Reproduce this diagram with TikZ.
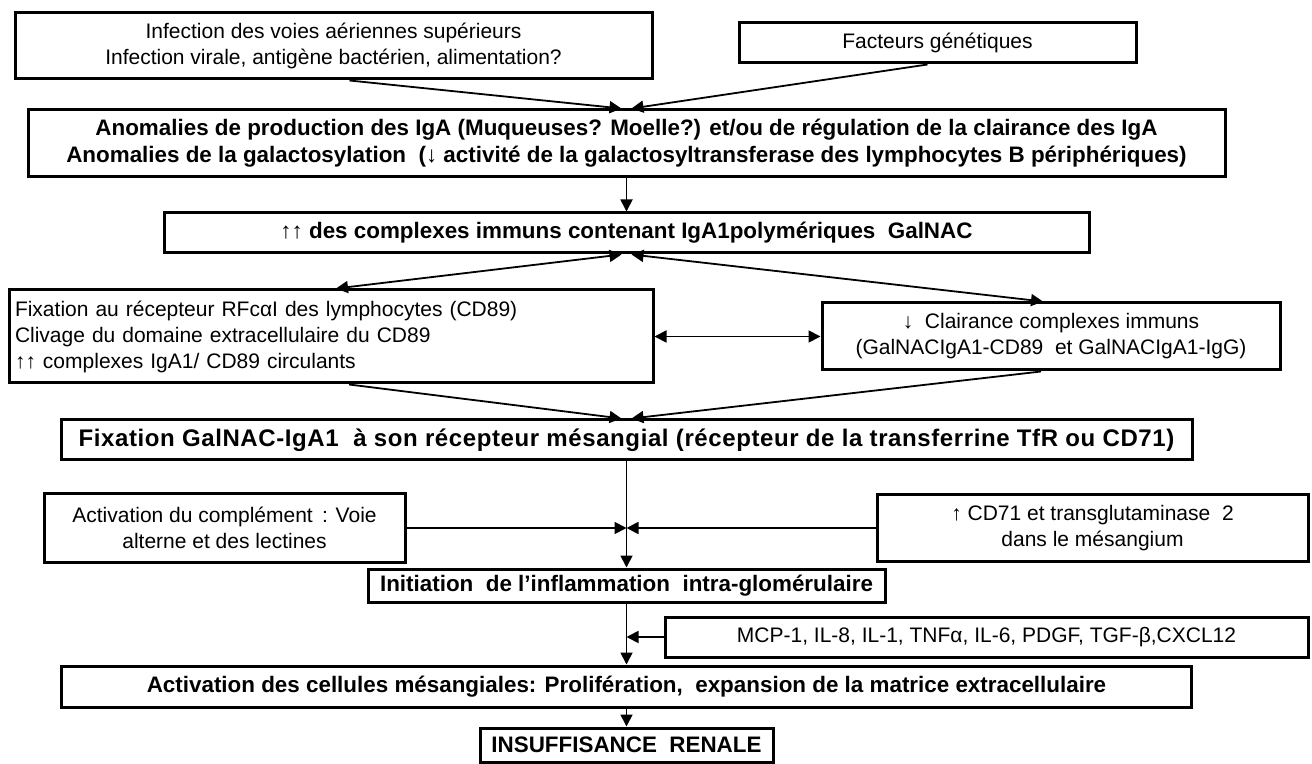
\documentclass[tikz,border=0pt]{standalone}
\usepackage{fontspec}
\setmainfont{Liberation Sans}
\usetikzlibrary{arrows.meta,calc}

\begin{document}
\begin{tikzpicture}[x=0.5pt,y=-0.5pt,
  box/.style={draw,line width=1.5pt,inner sep=0pt,align=center,
    font=\fontsize{10.5}{13}\selectfont},
  bbox/.style={box,font=\bfseries\fontsize{11.2}{13.5}\selectfont},
  wide/.style={box,font=\bfseries\fontsize{12}{14}\selectfont\addfontfeature{LetterSpace=2.5}},
  arr/.style={line width=0.9pt,-{Triangle[length=6pt,width=6pt]}},
  darr/.style={line width=0.9pt,{Triangle[length=6pt,width=6pt]}-{Triangle[length=6pt,width=6pt]}}]
\useasboundingbox (0,0) rectangle (1312,764);

% Causes
\node[box,minimum width=318.5pt,minimum height=33pt] (infect) at (333.5,46)
  {Infection des voies aériennes supérieurs\\Infection virale, antigène bactérien, alimentation?};
\node[box,minimum width=198.5pt,minimum height=20pt] (genet) at (937.5,43) {Facteurs génétiques};
\node[bbox,minimum width=598.5pt,minimum height=33.5pt] (anomal) at (626.5,143.5)
  {Anomalies de production des IgA (Muqueuses? Moelle?) et/ou de régulation de la clairance des IgA\\
   Anomalies de la galactosylation \ (↓ activité de la galactosyltransferase des lymphocytes B périphériques)};
\node[bbox,minimum width=462.5pt,minimum height=20pt] (cplx) at (626.5,233)
  {↑↑ des complexes immuns contenant IgA1polymériques \ GalNAC};

% Middle row
\node[box,align=left,text width=316pt,inner xsep=3pt,minimum height=46.5pt] (fixrc) at (331,336.5)
  {Fixation au récepteur RFcαI des lymphocytes (CD89)\\
   Clivage du domaine extracellulaire du CD89\\
   ↑↑ complexes IgA1/ CD89 circulants};
\node[box,minimum width=229pt,minimum height=33.5pt] (clair) at (1051,336.5)
  {↓ \ Clairance complexes immuns\\(GalNACIgA1-CD89 \ et GalNACIgA1-IgG)};
\node[wide,minimum width=565.5pt,minimum height=20pt] (fixgal) at (626.5,440)
  {Fixation GalNAC-IgA1 \ à son récepteur mésangial (récepteur de la transferrine TfR ou CD71)};

% Mesangium
\node[box,minimum width=180.5pt,minimum height=34.5pt] (compl) at (224.5,528)
  {Activation du complément \,: Voie\\alterne et des lectines};
\node[box,minimum width=215.5pt,minimum height=33pt] (cdsept) at (1092.5,528)
  {↑ CD71 et transglutaminase \ 2\\dans le mésangium};
\node[bbox,minimum width=258.5pt,minimum height=16.5pt] (init) at (626.5,585.5)
  {Initiation \ de l’inflammation \ intra-glomérulaire};
\node[box,minimum width=321.5pt,minimum height=20pt] (mcp) at (986.5,637)
  {MCP-1, IL-8, IL-1, TNFα, IL-6, PDGF, TGF-β,CXCL12};
\node[bbox,minimum width=565pt,minimum height=20.5pt] (activ) at (626.5,686.5)
  {Activation des cellules mésangiales: Prolifération, \ expansion de la matrice extracellulaire};
\node[bbox,minimum width=146.5pt,minimum height=17pt] (insuf) at (626.5,745) {INSUFFISANCE \ RENALE};

% Connectors
\draw[arr] ($(infect.south)+(16,0)$) -- ($(anomal.north)+(-5,0)$);
\draw[arr] ($(genet.south)+(-10,0)$) -- ($(anomal.north)+(5,0)$);
\draw[arr] (anomal.south) -- (cplx.north);
\draw[darr] ($(cplx.south)+(-5,0)$) -- ($(fixrc.north)+(5,0)$);
\draw[darr] ($(cplx.south)+(5,0)$) -- ($(clair.north)+(-8,0)$);
\draw[darr] (fixrc.east) -- (clair.west);
\draw[arr] ($(fixrc.south)+(18,0)$) -- ($(fixgal.north)+(-5,0)$);
\draw[arr] ($(clair.south)+(-10,0)$) -- ($(fixgal.north)+(5,0)$);
\draw[arr] (fixgal.south) -- (init.north);
\draw[arr] (compl.east) -- (compl.east -| fixgal.south);
\draw[arr] (cdsept.west) -- (cdsept.west -| fixgal.south);
\draw[arr] (init.south) -- (activ.north);
\draw[arr] (mcp.west) -- (mcp.west -| init.south);
\draw[arr] (activ.south) -- (insuf.north);
\end{tikzpicture}
\end{document}
